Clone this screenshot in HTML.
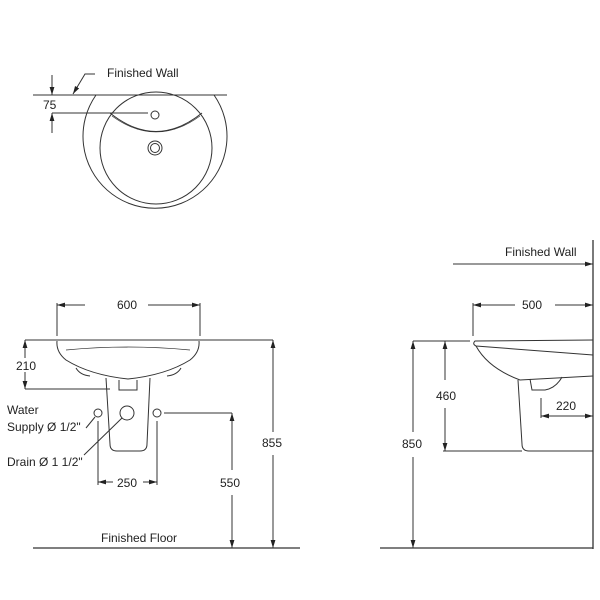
<!DOCTYPE html>
<html><head><meta charset="utf-8"><style>
html,body{margin:0;padding:0;background:#fff;}
svg{display:block;}
text{font-family:"Liberation Sans",Arial,sans-serif;font-size:12px;fill:#222;}
</style></head><body>
<svg width="600" height="600" viewBox="0 0 600 600" xmlns="http://www.w3.org/2000/svg">
<defs>
<marker id="a" viewBox="0 0 10 6" refX="10" refY="3" markerWidth="8" markerHeight="5" orient="auto-start-reverse" markerUnits="userSpaceOnUse"><path d="M0,0 L10,3 L0,6 z" fill="#222"/></marker>
</defs>
<g stroke="#333" stroke-width="1" fill="none">
<!-- TOP VIEW -->
<line x1="33" y1="95" x2="227" y2="95"/>
<path d="M96,95 A72,72 0 1 0 214,95"/>
<circle cx="156" cy="148" r="56"/>
<path d="M110,113 Q156,150 202,113"/>
<path d="M112,116 Q156,148 200,116" stroke-width="0.6"/>
<circle cx="155" cy="115" r="4"/>
<circle cx="155" cy="148" r="7"/>
<circle cx="155" cy="148" r="4.5"/>
<line x1="52" y1="75" x2="52" y2="95" marker-end="url(#a)"/>
<line x1="52" y1="133" x2="52" y2="113" marker-end="url(#a)"/>
<line x1="52" y1="113" x2="148" y2="113"/>
<polyline points="95,74 85,74 73,94" marker-end="url(#a)"/>
<!-- FRONT VIEW -->
<line x1="25" y1="340" x2="273" y2="340"/>
<line x1="57" y1="303" x2="57" y2="336"/>
<line x1="200" y1="303" x2="200" y2="336"/>
<line x1="72" y1="305" x2="57" y2="305" marker-end="url(#a)"/>
<line x1="85" y1="305" x2="72" y2="305"/>
<line x1="148" y1="305" x2="200" y2="305" marker-end="url(#a)"/>
<path d="M57,341 Q56,352 66,360 Q90,375 128,379 Q166,375 190,360 Q200,352 199,341"/>
<path d="M66,350 Q128,344 190,350" stroke-width="0.7"/>
<path d="M76,368 Q80,375 90,376 M181,368 Q177,375 167,376"/>
<path d="M106,378 L110,444 Q110,451 117,451 L140,451 Q147,451 147,444 L150,378"/>
<path d="M119,380 L119,390 L137,390 L137,380"/>
<circle cx="98" cy="413" r="4"/>
<circle cx="127" cy="413" r="7"/>
<circle cx="157" cy="413" r="4"/>
<line x1="25" y1="389" x2="110" y2="389"/>
<line x1="25" y1="358" x2="25" y2="340" marker-end="url(#a)"/>
<line x1="25" y1="372" x2="25" y2="389" marker-end="url(#a)"/>
<line x1="86" y1="428" x2="95" y2="417"/>
<line x1="84" y1="455" x2="122" y2="418"/>
<line x1="98" y1="421" x2="98" y2="485"/>
<line x1="157" y1="421" x2="157" y2="485"/>
<line x1="113" y1="482" x2="98" y2="482" marker-end="url(#a)"/>
<line x1="143" y1="482" x2="157" y2="482" marker-end="url(#a)"/>
<line x1="164" y1="413" x2="232" y2="413"/>
<line x1="232" y1="470" x2="232" y2="413" marker-end="url(#a)"/>
<line x1="232" y1="495" x2="232" y2="548" marker-end="url(#a)"/>
<line x1="273" y1="432" x2="273" y2="340" marker-end="url(#a)"/>
<line x1="273" y1="455" x2="273" y2="548" marker-end="url(#a)"/>
<line x1="33" y1="548" x2="300" y2="548" stroke-width="1.3"/>
<!-- SIDE VIEW -->
<line x1="593" y1="240" x2="593" y2="549" stroke-width="1.3"/>
<line x1="453" y1="264" x2="593" y2="264" marker-end="url(#a)"/>
<line x1="473" y1="303" x2="473" y2="336"/>
<line x1="488" y1="305" x2="473" y2="305" marker-end="url(#a)"/>
<line x1="515" y1="305" x2="488" y2="305"/>
<line x1="555" y1="305" x2="593" y2="305" marker-end="url(#a)"/>
<line x1="413" y1="341" x2="470" y2="341"/>
<path d="M593,340 L475,341 Q472,344 476,346 L593,355"/>
<path d="M476,346 Q488,368 520,380 L593,376"/>
<path d="M518,380 L522,444 Q522,451 529,451 L593,451"/>
<path d="M530,379 L532,390 L545,390 Q556,388 562,377"/>
<line x1="443" y1="451" x2="522" y2="451"/>
<line x1="445" y1="380" x2="445" y2="341" marker-end="url(#a)"/>
<line x1="445" y1="408" x2="445" y2="451" marker-end="url(#a)"/>
<line x1="413" y1="432" x2="413" y2="341" marker-end="url(#a)"/>
<line x1="413" y1="457" x2="413" y2="548" marker-end="url(#a)"/>
<line x1="541" y1="398" x2="541" y2="418"/>
<line x1="541" y1="416" x2="593" y2="416" marker-end="url(#a)" marker-start="url(#a)"/>
<line x1="380" y1="548" x2="593" y2="548" stroke-width="1.3"/>
</g>
<text x="107" y="77">Finished Wall</text>
<text x="43" y="109">75</text>
<text x="117" y="309">600</text>
<text x="16" y="370">210</text>
<text x="7" y="414">Water</text>
<text x="7" y="431">Supply Ø 1/2"</text>
<text x="7" y="466">Drain Ø 1 1/2"</text>
<text x="117" y="487">250</text>
<text x="220" y="487">550</text>
<text x="262" y="447">855</text>
<text x="101" y="542">Finished Floor</text>
<text x="505" y="256">Finished Wall</text>
<text x="522" y="309">500</text>
<text x="436" y="400">460</text>
<text x="402" y="448">850</text>
<text x="556" y="410">220</text>
</svg>
</body></html>
